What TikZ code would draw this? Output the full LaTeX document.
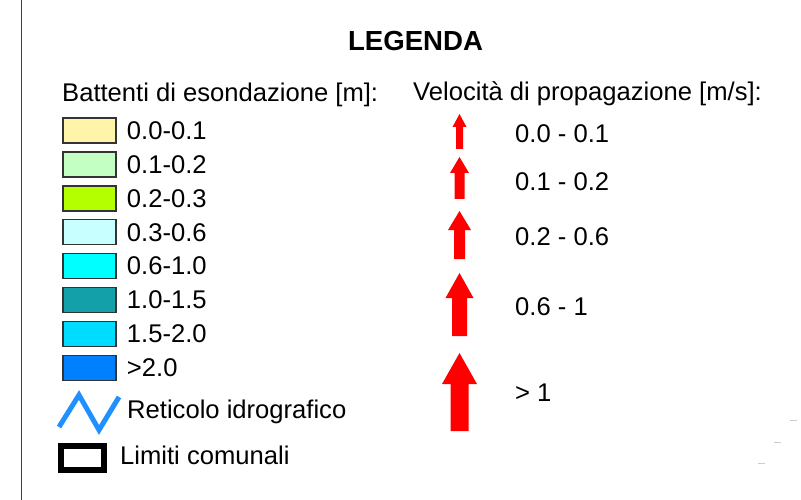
\documentclass[tikz,border=0pt]{standalone}
\usepackage{fontspec}
\setmainfont{Liberation Sans}
\usetikzlibrary{positioning}
\definecolor{depthA}{RGB}{255,245,170}
\definecolor{depthB}{RGB}{195,255,195}
\definecolor{depthC}{RGB}{180,255,0}
\definecolor{depthD}{RGB}{200,255,255}
\definecolor{depthE}{RGB}{0,255,255}
\definecolor{depthF}{RGB}{20,160,168}
\definecolor{depthG}{RGB}{0,220,255}
\definecolor{depthH}{RGB}{0,128,255}
\definecolor{river}{RGB}{30,144,255}
\begin{document}
\begin{tikzpicture}[x=1pt, y=-1pt,
	txt/.style={inner sep=0pt, font=\fontsize{25.6}{30}\selectfont},
	swatch/.style={draw=black!80, line width=1.5pt, minimum width=53pt, minimum height=25pt, inner sep=0pt},
	vel/.style={fill=red}]
	\useasboundingbox (0,0) rectangle (801,500);
	\draw[black!75, line width=1.5pt] (21.5,0) -- (21.5,500);
	% titles
	\node (title) [inner sep=0pt, anchor=base, font=\fontsize{27.6}{32}\selectfont\bfseries] at (415.5,51) {LEGENDA};
	\node (depth) [txt, anchor=base west] at (62,102) {Battenti di esondazione [m]:};
	\node (speed) [txt, anchor=base west] at (413,101) {Velocità di propagazione [m/s]:};
	% water depth classes
	\node (b1) [swatch, fill=depthA] at (89.5,130.5) {};
	\node (b2) [swatch, fill=depthB] at (89.5,164.4) {};
	\node (b3) [swatch, fill=depthC] at (89.5,198.3) {};
	\node (b4) [swatch, fill=depthD] at (89.5,232.2) {};
	\node (b5) [swatch, fill=depthE] at (89.5,266.1) {};
	\node (b6) [swatch, fill=depthF] at (89.5,300.0) {};
	\node (b7) [swatch, fill=depthG] at (89.5,333.9) {};
	\node (b8) [swatch, fill=depthH] at (89.5,367.8) {};
	\node (l1) [txt, right=10pt of b1] {0.0-0.1};
	\node (l2) [txt, right=10pt of b2] {0.1-0.2};
	\node (l3) [txt, right=10pt of b3] {0.2-0.3};
	\node (l4) [txt, right=10pt of b4] {0.3-0.6};
	\node (l5) [txt, right=10pt of b5] {0.6-1.0};
	\node (l6) [txt, right=10pt of b6] {1.0-1.5};
	\node (l7) [txt, right=10pt of b7] {1.5-2.0};
	\node (l8) [txt, right=10pt of b8] {>2.0};
	% rivers and borders
	\draw[river, line width=5pt, line join=miter] (59,427) -- (79,395) -- (99,430) -- (119,397);
	\node (river) [txt, anchor=base west] at (127,418) {Reticolo idrografico};
	\draw[black, line width=6pt] (61,446) rectangle (104,470);
	\node (border) [txt, anchor=base west] at (120,464) {Limiti comunali};
	% velocity classes
	\fill[vel] (459.5,114) -- ++(7,13) -- ++(-3.5,0) -- ++(0,22) -- ++(-7,0) -- ++(0,-22) -- ++(-3.5,0) -- cycle;
	\fill[vel] (459.5,157) -- ++(9.5,16) -- ++(-4.5,0) -- ++(0,26) -- ++(-10,0) -- ++(0,-26) -- ++(-4.5,0) -- cycle;
	\fill[vel] (459.5,211) -- ++(11.5,19) -- ++(-6,0) -- ++(0,29) -- ++(-11,0) -- ++(0,-29) -- ++(-6,0) -- cycle;
	\fill[vel] (459.5,273) -- ++(14,25) -- ++(-6.5,0) -- ++(0,38) -- ++(-15,0) -- ++(0,-38) -- ++(-6.5,0) -- cycle;
	\fill[vel] (459.5,353) -- ++(17.5,31) -- ++(-8.5,0) -- ++(0,47) -- ++(-18,0) -- ++(0,-47) -- ++(-8.5,0) -- cycle;
	\node (v1) [txt, anchor=west] at (515,134) {0.0 - 0.1};
	\node (v2) [txt, anchor=west] at (515,182) {0.1 - 0.2};
	\node (v3) [txt, anchor=west] at (515,237) {0.2 - 0.6};
	\node (v4) [txt, anchor=west] at (515,307) {0.6 - 1};
	\node (v5) [txt, anchor=west] at (515,393) {> 1};
	% stray marks at the right edge
	\draw[black!20, line width=1pt] (790,420) -- (797,420) (774,442) -- (781,442) (758,463) -- (765,463);
\end{tikzpicture}
\end{document}
